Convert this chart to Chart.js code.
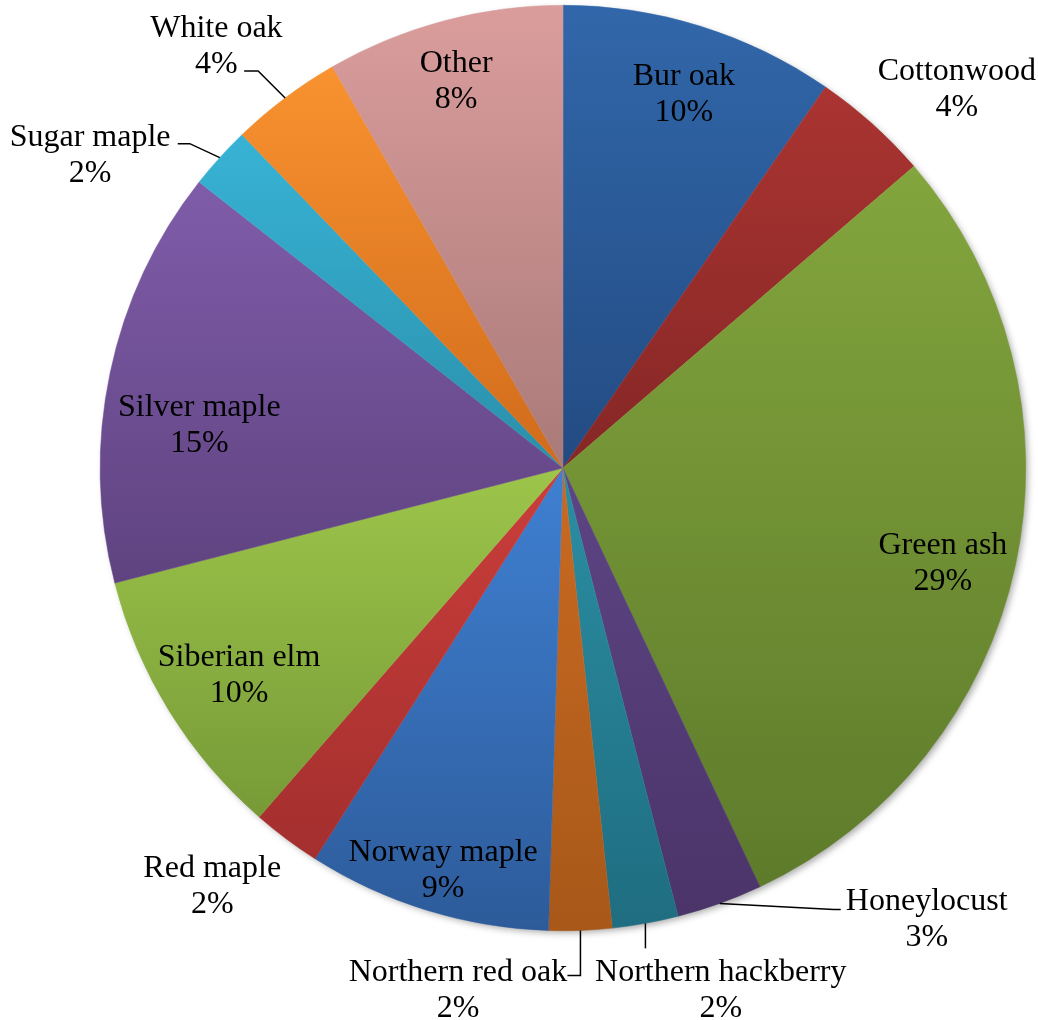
<!DOCTYPE html>
<html>
<head>
  <title>Tree species share</title>
  <script src="https://cdn.jsdelivr.net/npm/chart.js"></script>
  <style>
    html, body { margin: 0; padding: 0; background: #fff; }
    #wrap { width: 1038px; height: 1020px; position: relative; }
  </style>
</head>
<body>
  <div id="wrap"><canvas id="pie"></canvas></div>

  <script>
    const species = ['Bur oak', 'Cottonwood', 'Green ash', 'Honeylocust', 'Northern hackberry',
      'Northern red oak', 'Norway maple', 'Red maple', 'Siberian elm', 'Silver maple',
      'Sugar maple', 'White oak', 'Other'];
    const shares = [9.6, 4.1, 29.3, 3.0, 2.3, 2.2, 8.5, 2.4, 9.6, 14.6, 2.2, 3.9, 8.3];

    const topColors = ['#3167AA', '#AA3431', '#83A53D', '#5D4585', '#2B8EA3', '#C96A22', '#3F80D2',
      '#CB3E3B', '#9DC54A', '#7F5CA9', '#38B3D5', '#F9922F', '#DA9D9C'];
    const bottomColors = ['#234B82', '#852726', '#5E7B2B', '#4B3468', '#1F6D80', '#A85819', '#2D5B9A',
      '#A32F2E', '#779A37', '#5F4380', '#2A8FAA', '#D06B1C', '#A97A79'];

    // label block centres, in units of the pie radius from the centre
    const labelPos = [[0.261, -0.816], [0.851, -0.826], [0.821, 0.198], [0.786, 0.968], [0.341, 1.120],
      [-0.227, 1.120], [-0.259, 0.862], [-0.758, 0.897], [-0.700, 0.440], [-0.786, -0.100],
      [-1.022, -0.684], [-0.749, -0.919], [-0.231, -0.843]];

    // leader line steps (px) from the slice edge, for the small outside labels
    const leaders = {
      3: [[114, 6], [7, 0]],
      4: [[0, 25]],
      5: [[0, 45], [-13, 0]],
      10: [[-30, -14], [-12, 0]],
      11: [[-27, -27], [-14, 0]]
    };

    const total = shares.reduce((a, b) => a + b, 0);

    function sliceGradient(context) {
      const i = context.dataIndex;
      const chart = context.chart;
      const area = chart.chartArea;
      if (!area) return topColors[i];
      const cx = (area.left + area.right) / 2;
      const cy = (area.top + area.bottom) / 2;
      const r = Math.min(area.right - area.left, area.bottom - area.top) / 2;
      let cum = 0;
      for (let k = 0; k < i; k++) cum += shares[k];
      const s = cum / total, e = (cum + shares[i]) / total;
      const yAt = f => cy - r * Math.cos(2 * Math.PI * f);
      let minY = Math.min(cy, yAt(s), yAt(e));
      let maxY = Math.max(cy, yAt(s), yAt(e));
      if (s <= 0) minY = cy - r;
      if (s <= 0.5 && e >= 0.5) maxY = cy + r;
      const g = chart.ctx.createLinearGradient(0, minY, 0, maxY);
      g.addColorStop(0, topColors[i]);
      g.addColorStop(1, bottomColors[i]);
      return g;
    }

    const shadowPlugin = {
      id: 'pieShadow',
      beforeDatasetsDraw(chart) {
        const el = chart.getDatasetMeta(0).data[0];
        if (!el) return;
        const ctx = chart.ctx;
        ctx.save();
        ctx.shadowColor = 'rgba(0,0,0,0.35)';
        ctx.shadowBlur = 7;
        ctx.shadowOffsetX = 3;
        ctx.shadowOffsetY = 3;
        ctx.fillStyle = '#ffffff';
        ctx.beginPath();
        ctx.arc(el.x, el.y, el.outerRadius - 1, 0, Math.PI * 2);
        ctx.fill();
        ctx.restore();
      }
    };

    const labelPlugin = {
      id: 'sliceLabels',
      afterDatasetsDraw(chart) {
        const meta = chart.getDatasetMeta(0);
        const ctx = chart.ctx;
        ctx.save();
        ctx.font = '32px "Liberation Serif", "Times New Roman", serif';
        ctx.fillStyle = '#000';
        ctx.textAlign = 'center';
        ctx.textBaseline = 'middle';
        ctx.strokeStyle = '#000';
        ctx.lineWidth = 1.5;
        meta.data.forEach((arc, i) => {
          const R = arc.outerRadius;
          const lx = arc.x + labelPos[i][0] * R;
          const ly = arc.y + labelPos[i][1] * R + 4;
          const pct = Math.round(shares[i] / total * 100) + '%';
          ctx.fillText(species[i], lx, ly - 18);
          ctx.fillText(pct, lx, ly + 18);

          const steps = leaders[i];
          if (steps) {
            const mid = (arc.startAngle + arc.endAngle) / 2;
            let x = arc.x + Math.cos(mid) * R;
            let y = arc.y + Math.sin(mid) * R;
            ctx.beginPath();
            ctx.moveTo(x, y);
            steps.forEach(([dx, dy]) => {
              x += dx; y += dy;
              ctx.lineTo(x, y);
            });
            ctx.stroke();
          }
        });
        ctx.restore();
      }
    };

    new Chart(document.getElementById('pie'), {
      type: 'pie',
      data: {
        labels: species,
        datasets: [{
          data: shares,
          backgroundColor: sliceGradient,
          borderColor: sliceGradient,
          borderWidth: 0.5
        }]
      },
      options: {
        responsive: true,
        maintainAspectRatio: false,
        animation: false,
        layout: { padding: { left: 100, right: 12, top: 5, bottom: 89 } },
        plugins: {
          legend: { display: false },
          tooltip: { enabled: false }
        }
      },
      plugins: [shadowPlugin, labelPlugin]
    });
  </script>
</body>
</html>
